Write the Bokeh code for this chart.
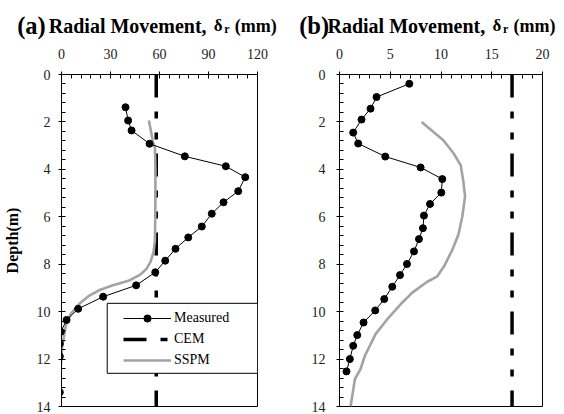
from bokeh.plotting import figure
from bokeh.layouts import row, column
from bokeh.models import (Range1d, SingleIntervalTicker, Label, Legend,
                          LegendItem, BoxAnnotation)
from bokeh.embed import file_html
from bokeh.resources import INLINE

SERIF = "Liberation Serif"
GRAY = "#a3a3a3"

# ---- (a) radial movement vs depth ----
a_meas_depth = [1.38, 1.94, 2.36, 2.92, 3.45, 3.87, 4.33, 4.92, 5.39, 5.87, 6.41,
                6.87, 7.35, 7.85, 8.34, 8.89, 9.37, 9.88, 10.35, 10.85, 11.35, 11.89, 13.4]
a_meas_mm = [39.2, 40.8, 42.9, 53.9, 75.5, 100.6, 112.5, 108.2, 99.2, 92.0, 85.9,
             77.6, 69.8, 63.5, 57.4, 45.7, 25.5, 10.2, 3.1, -0.4, -1.0, -1.0, -1.0]
a_sspm_depth = [1.94, 2.4, 2.85, 3.1, 4.0, 5.0, 6.0, 7.0, 7.5, 7.9, 8.2, 8.45, 8.7,
                8.9, 9.1, 9.35, 9.6, 9.8, 10.1, 10.6, 11.5, 12.9, 14.0]
a_sspm_mm = [53.5, 54.8, 56.0, 57.2, 57.5, 57.5, 57.4, 57.2, 56.3, 54.5, 52.0, 48.0,
             41.0, 31.0, 23.0, 16.5, 12.0, 9.3, 5.6, 2.6, 0.4, -1.0, -1.3]
a_cem_mm = 58.0

# ---- (b) radial movement vs depth ----
b_meas_depth = [0.39, 0.95, 1.44, 1.90, 2.45, 2.91, 3.46, 3.92, 4.41, 4.98, 5.46, 5.95,
                6.48, 6.94, 7.46, 7.99, 8.46, 8.95, 9.47, 9.95, 10.46, 10.99, 11.44,
                12.0, 12.52]
b_meas_mm = [6.88, 3.65, 3.06, 2.17, 1.35, 1.84, 4.51, 7.99, 10.13, 10.03, 8.92, 8.32,
             8.22, 7.83, 7.34, 6.65, 5.96, 5.2, 4.41, 3.52, 2.37, 1.75, 1.35, 1.02, 0.69]
b_sspm_depth = [2.0, 2.77, 3.3, 3.82, 4.5, 5.15, 5.99, 6.76, 7.39, 8.09, 8.51, 8.74,
                9.2, 9.69, 10.32, 10.95, 11.86, 12.42, 12.84, 14.0]
b_sspm_mm = [8.09, 10.23, 11.2, 11.94, 12.2, 12.37, 12.1, 11.71, 11.12, 10.3, 9.64,
             8.65, 7.17, 6.02, 4.71, 3.55, 2.5, 2.07, 1.52, 1.09]
b_cem_mm = 17.0

depth_span = [0, 14]
x_max = [120, 20]
x_step = [30, 5]
panel_letters = ["a", "b"]

W, H_HEAD = 282, 40
H = 414 - H_HEAD
CEM_DASH = "23 14 7 14 7 14"


def make_panel(xmax, xstep, left, right, top, bottom, ylabel):
    p = figure(width=W, height=H, x_range=Range1d(0, xmax), y_range=Range1d(14, 0),
               x_axis_location="above", output_backend="svg", toolbar_location=None,
               min_border_left=left, min_border_right=right,
               min_border_top=top, min_border_bottom=bottom,
               outline_line_color="black", outline_line_width=1, outline_line_alpha=1)
    p.xgrid.visible = False
    p.ygrid.visible = False
    p.xaxis.ticker = SingleIntervalTicker(interval=xstep, num_minor_ticks=5)
    p.yaxis.ticker = SingleIntervalTicker(interval=2, num_minor_ticks=5)
    for ax in (p.xaxis, p.yaxis):
        ax.axis_line_color = "black"
        ax.major_tick_line_color = "black"
        ax.minor_tick_line_color = "black"
        ax.major_tick_in = 3
        ax.major_tick_out = 3
        ax.minor_tick_in = 4
        ax.minor_tick_out = 0
        ax.major_label_text_font = SERIF
        ax.major_label_text_font_size = "14px"
        ax.major_label_text_color = "#222222"
    p.xaxis.major_label_standoff = 13
    p.yaxis.major_label_standoff = 8 if ylabel else 11
    if ylabel:
        p.yaxis.axis_label = ylabel
        p.yaxis.axis_label_text_font = SERIF
        p.yaxis.axis_label_text_font_style = "bold"
        p.yaxis.axis_label_text_font_size = "16px"
        p.yaxis.axis_label_text_color = "black"
        p.yaxis.axis_label_standoff = 13
    p.background_fill_color = "white"
    p.border_fill_color = "white"
    return p


# header strip carrying both panel titles (pixel-like coordinates, y downwards)
head = figure(width=2 * W, height=H_HEAD, x_range=Range1d(0, 2 * W),
              y_range=Range1d(H_HEAD, 0), x_axis_type=None, y_axis_type=None,
              output_backend="svg", toolbar_location=None, min_border=0,
              outline_line_color=None)
head.xgrid.visible = False
head.ygrid.visible = False

BASE = 25
for i, letter in enumerate(panel_letters):
    ox = i * W
    radial_x = 48.3 if letter == "a" else 45.0
    pieces = [
        (16.7, BASE, "(" + letter + ")", "24.5px"),
        (radial_x, BASE, "Radial Movement,", "20px"),
        (radial_x + 165.0, BASE, "\u03b4", "17px"),
        (radial_x + 175.5, BASE + 3, "r", "12px"),
        (radial_x + 186.0, BASE, "(mm)", "18px"),
    ]
    for px, py, txt, size in pieces:
        head.add_layout(Label(x=ox + px, y=py, text=txt, text_font=SERIF,
                              text_font_style="bold", text_font_size=size,
                              text_color="black", text_align="left",
                              text_baseline="alphabetic"))

# panel (a)
la, ra, ta, ba = 61, 25, 72 - H_HEAD, 8
pa = make_panel(x_max[0], x_step[0], la, ra, ta, ba, "Depth(m)")
cem_a = pa.line([a_cem_mm, a_cem_mm], depth_span, line_color="black",
                line_width=3.5, line_dash=CEM_DASH)
sspm_a = pa.line(a_sspm_mm, a_sspm_depth, line_color=GRAY, line_width=2.6)
meas_a_line = pa.line(a_meas_mm, a_meas_depth, line_color="black", line_width=1)
meas_a_pts = pa.scatter(a_meas_mm, a_meas_depth, marker="circle", size=7,
                        fill_color="black", line_color="black")

# legend frame (white box with thin border)
pa.add_layout(BoxAnnotation(left=28, right=120, top=9.65, bottom=12.6,
                            fill_color="white", fill_alpha=1,
                            line_color="black", line_width=1, line_alpha=1))
legend = Legend(items=[
    LegendItem(label="Measured", renderers=[meas_a_line, meas_a_pts]),
    LegendItem(label="CEM", renderers=[cem_a]),
    LegendItem(label="SSPM", renderers=[sspm_a]),
], location=(62, 37), padding=0, margin=0, spacing=3, glyph_width=48,
    glyph_height=18, label_standoff=3, label_text_font=SERIF,
    label_text_font_size="14px", label_text_color="black",
    border_line_alpha=0, background_fill_alpha=0)
pa.add_layout(legend)

# panel (b)
lb, rb, tb, bb = 57, 22, 74 - H_HEAD, 6
pb = make_panel(x_max[1], x_step[1], lb, rb, tb, bb, None)
pb.line([b_cem_mm, b_cem_mm], depth_span, line_color="black", line_width=3.5,
        line_dash=CEM_DASH)
pb.line(b_sspm_mm, b_sspm_depth, line_color=GRAY, line_width=2.6)
pb.line(b_meas_mm, b_meas_depth, line_color="black", line_width=1)
pb.scatter(b_meas_mm, b_meas_depth, marker="circle", size=7,
           fill_color="black", line_color="black")

layout = column(head, row(pa, pb, spacing=0), spacing=0)
open("out.html", "w").write(file_html(layout, INLINE))
